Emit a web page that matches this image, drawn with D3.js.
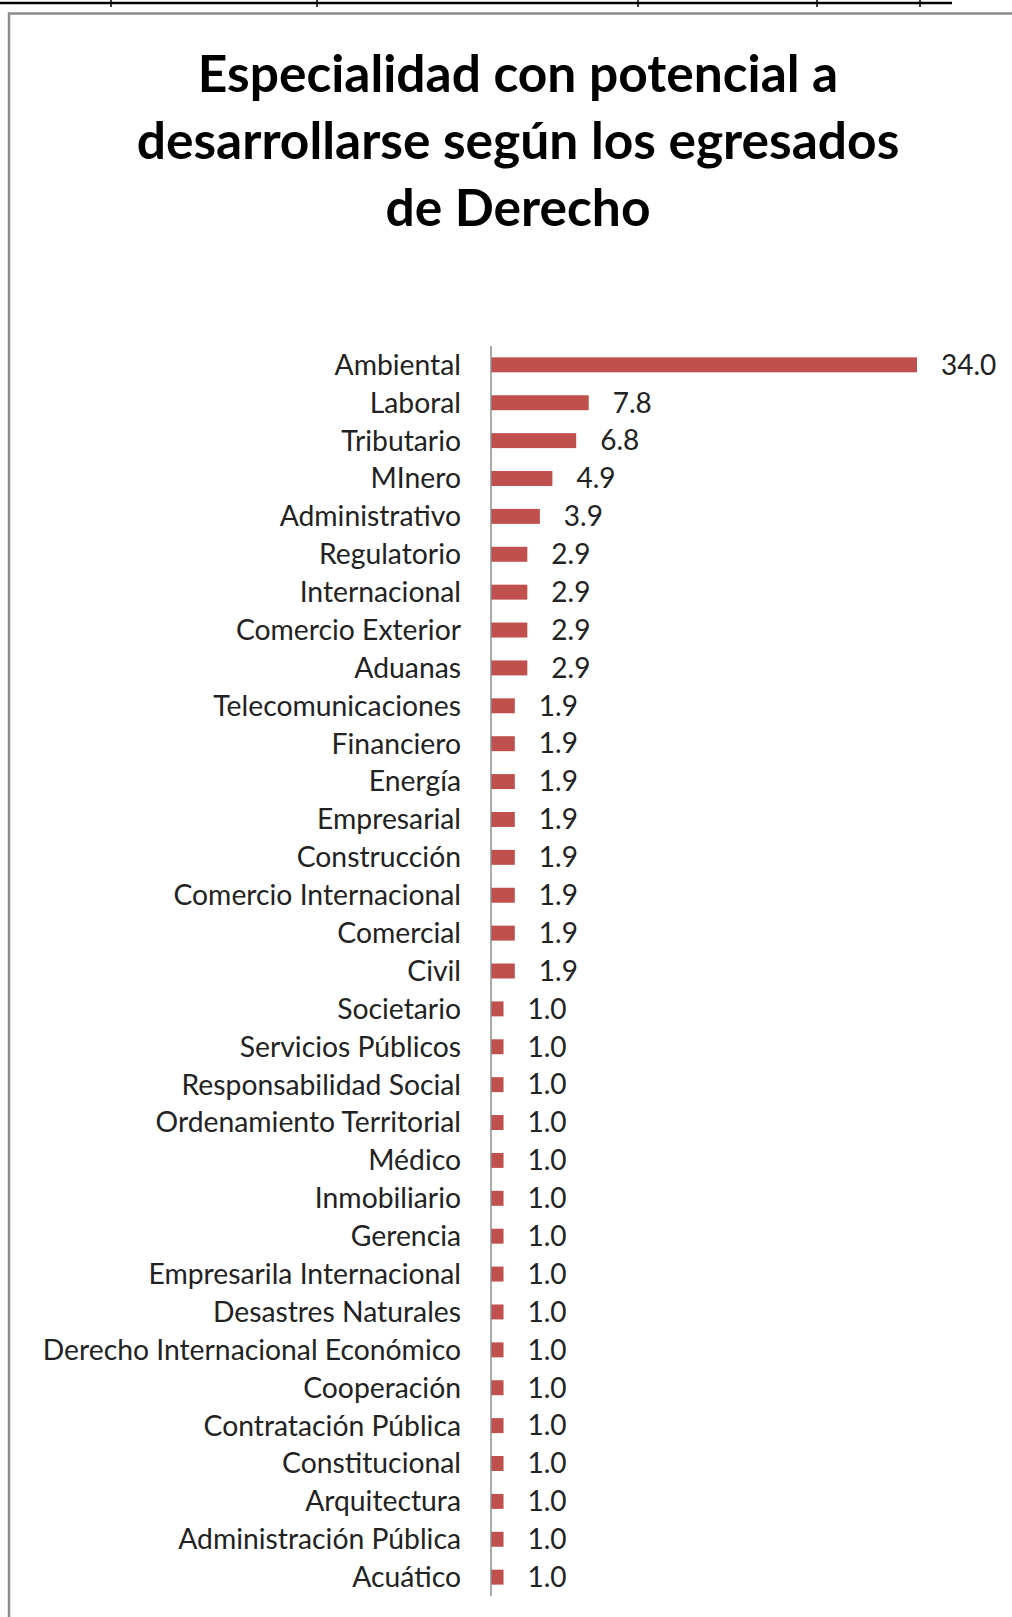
<!DOCTYPE html>
<html>
<head>
<meta charset="utf-8">
<script src="https://cdn.jsdelivr.net/npm/d3@7"></script>
<style>
  body { margin: 0; background: #fff; }
  svg { display: block; }
</style>
</head>
<body>
<svg width="1012" height="1617"></svg>
<script>
// Datos del gráfico
const titulo = ["Especialidad con potencial a", "desarrollarse según los egresados", "de Derecho"];

const especialidades = [
    "Ambiental", "Laboral", "Tributario", "MInero", "Administrativo", "Regulatorio",
    "Internacional", "Comercio Exterior", "Aduanas", "Telecomunicaciones", "Financiero",
    "Energía", "Empresarial", "Construcción", "Comercio Internacional", "Comercial", "Civil",
    "Societario", "Servicios Públicos", "Responsabilidad Social", "Ordenamiento Territorial",
    "Médico", "Inmobiliario", "Gerencia", "Empresarila Internacional", "Desastres Naturales",
    "Derecho Internacional Económico", "Cooperación", "Contratación Pública", "Constitucional",
    "Arquitectura", "Administración Pública", "Acuático"
];

const porcentajes = [
    34.0, 7.8, 6.8, 4.9, 3.9, 2.9, 2.9, 2.9, 2.9, 1.9, 1.9, 1.9, 1.9, 1.9, 1.9, 1.9, 1.9,
    1.0, 1.0, 1.0, 1.0, 1.0, 1.0, 1.0, 1.0, 1.0, 1.0, 1.0, 1.0, 1.0, 1.0, 1.0, 1.0
];

const data = especialidades.map((d, i) => ({label: d, value: porcentajes[i]}));

const svg = d3.select("svg");
const fuente = "Lato, 'Open Sans', sans-serif";

// Línea de la tabla superior (fragmento del documento)
svg.append("line")
    .attr("x1", 0).attr("x2", 952)
    .attr("y1", 3).attr("y2", 3)
    .attr("stroke", "#000")
    .attr("stroke-width", 2.5);

svg.selectAll(".tick-top")
    .data([111, 317, 638, 817, 920])
    .enter()
    .append("line")
    .attr("x1", d => d).attr("x2", d => d)
    .attr("y1", 0).attr("y2", 7)
    .attr("stroke", "#000")
    .attr("stroke-width", 1.5);

// Marco del gráfico
svg.append("rect")
    .attr("x", 9).attr("y", 13.5)
    .attr("width", 1200).attr("height", 1700)
    .attr("fill", "#fff")
    .attr("stroke", "#8c8c8c")
    .attr("stroke-width", 2.5);

// Título
svg.append("text")
    .attr("x", 518)
    .attr("y", 92)
    .attr("text-anchor", "middle")
    .style("font-family", fuente)
    .style("font-weight", "bold")
    .style("font-size", "51.5px")
    .style("fill", "#000")
    .selectAll("tspan")
    .data(titulo)
    .enter()
    .append("tspan")
    .attr("x", 518)
    .attr("dy", (d, i) => i === 0 ? 0 : 67)
    .text(d => d);

// Área del gráfico
const attr_area = {x0: 491, x1: 917, y0: 346, y1: 1596};

const scaleX = d3.scaleLinear()
    .domain([0, d3.max(porcentajes)])
    .range([attr_area.x0, attr_area.x1]);

const scaleY = d3.scaleBand()
    .domain(especialidades)
    .range([attr_area.y0, attr_area.y1])
    .paddingInner(0.605)
    .paddingOuter(0.3);

// Barras
svg.selectAll(".bar")
    .data(data)
    .enter()
    .append("rect")
    .attr("x", scaleX(0))
    .attr("y", d => scaleY(d.label))
    .attr("width", d => scaleX(d.value) - scaleX(0))
    .attr("height", scaleY.bandwidth())
    .attr("fill", "#c0504d");

// Eje vertical
svg.append("line")
    .attr("x1", attr_area.x0).attr("x2", attr_area.x0)
    .attr("y1", attr_area.y0).attr("y2", attr_area.y1)
    .attr("stroke", "#8c8c8c")
    .attr("stroke-width", 1.5);

// Etiquetas de categorías
svg.selectAll(".label")
    .data(data)
    .enter()
    .append("text")
    .attr("x", 461)
    .attr("y", d => scaleY(d.label) + scaleY.bandwidth() / 2)
    .attr("dy", "0.35em")
    .attr("text-anchor", "end")
    .style("font-family", fuente)
    .style("font-size", "28.3px")
    .style("fill", "#222")
    .text(d => d.label);

// Etiquetas de valores
const fmt = d3.format(".1f");
svg.selectAll(".value")
    .data(data)
    .enter()
    .append("text")
    .attr("x", d => scaleX(d.value) + 24)
    .attr("y", d => scaleY(d.label) + scaleY.bandwidth() / 2)
    .attr("dy", "0.35em")
    .style("font-family", fuente)
    .style("font-size", "28px")
    .style("fill", "#222")
    .text(d => fmt(d.value));
</script>
</body>
</html>
